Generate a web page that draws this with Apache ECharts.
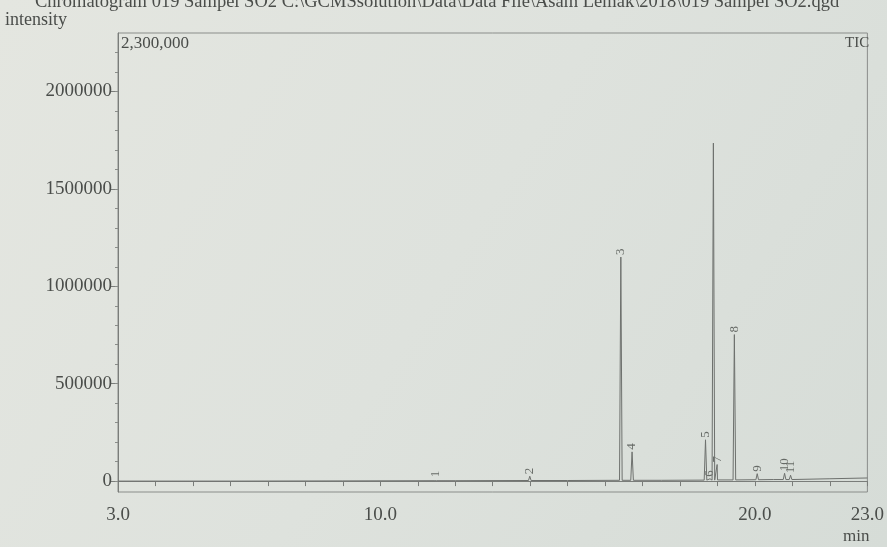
<!DOCTYPE html>
<html>
<head>
<meta charset="utf-8">
<script src="https://cdn.jsdelivr.net/npm/echarts@6/dist/echarts.min.js"></script>
<style>
html,body{margin:0;padding:0;background:#dfe2dd;}
#c{width:887px;height:547px;}
</style>
</head>
<body>
<div id="c"></div>
<script>
// ---- data ----
const titleText = 'Chromatogram 019 Sampel SO2 C:\\GCMSsolution\\Data\\Data File\\Asam Lemak\\2018\\019 Sampel SO2.qgd';
const xTickLabels = [3.0, 10.0, 20.0, 23.0];
const xTicks = [3,4,5,6,7,8,9,10,11,12,13,14,15,16,17,18,19,20,21,22,23];
const yTickLabels = [0, 500000, 1000000, 1500000, 2000000];
const yMinorTicks = [0,100000,200000,300000,400000,500000,600000,700000,800000,900000,1000000,1100000,1200000,1300000,1400000,1500000,1600000,1700000,1800000,1900000,2000000,2100000,2200000];

// baseline (min, intensity)
const baseTimes  = [3.0, 6.0, 9.0, 12.0, 15.0, 17.5, 19.0, 20.5, 22.0, 23.0];
const baseValues = [0, 0, 1000, 2000, 3000, 4000, 6000, 8000, 12000, 16000];

// peaks
const peakNames   = ['1', '2', '3', '4', '5', '6', '', '7', '8', '9', '10', '11'];
const peakTimes   = [11.47, 13.99, 16.42, 16.72, 18.68, 18.80, 18.89, 18.99, 19.45, 20.06, 20.79, 20.95];
const peakHeights = [9000, 25000, 1150000, 150000, 212000, 12000, 1735000, 85000, 752000, 38000, 40000, 30000];
const peakBases   = [2000, 3000, 4000, 4000, 5000, 5000, 5000, 5000, 6000, 7000, 8000, 8000];

// ---- build line from data ----
const hw = 0.035;
let pts = [];
baseTimes.forEach((t, i) => pts.push([t, baseValues[i]]));
peakTimes.forEach((t, i) => {
  pts.push([t - hw, peakBases[i]]);
  pts.push([t, peakHeights[i]]);
  pts.push([t + hw, peakBases[i]]);
});
pts.sort((a, b) => a[0] - b[0]);

const labelData = peakTimes.map((t, i) => ({value: [t, peakHeights[i]], name: peakNames[i]}));

const serif = '"Liberation Serif", "DejaVu Serif", serif';
const txt = '#4a4d4a';

const chart = echarts.init(document.getElementById('c'));
chart.setOption({
  backgroundColor: '#dfe2dd',
  animation: false,
  grid: {left: 118, right: 17, top: 33, bottom: 55, show: true, borderColor: '#8a8d8a', borderWidth: 1, backgroundColor: 'transparent'},
  xAxis: {
    type: 'value', min: 3, max: 23,
    axisLine: {lineStyle: {color: '#7a7d7a'}},
    splitLine: {show: false},
    axisTick: {show: true, inside: false, length: 5, customValues: xTicks, lineStyle: {color: '#7a7d7a'}},
    axisLabel: {customValues: xTickLabels, formatter: v => v.toFixed(1), fontFamily: serif, fontSize: 19, color: txt, margin: 14}
  },
  yAxis: [{
    type: 'value', min: -56000, max: 2300000,
    axisLine: {show: true, lineStyle: {color: '#7a7d7a'}},
    splitLine: {show: false},
    axisTick: {show: true, length: 7, customValues: yTickLabels, lineStyle: {color: '#7a7d7a'}},
    axisLabel: {customValues: yTickLabels, formatter: v => String(v), fontFamily: serif, fontSize: 19, color: txt, margin: 6}
  }, {
    type: 'value', min: -56000, max: 2300000, position: 'left',
    axisLine: {show: false},
    splitLine: {show: false},
    axisTick: {show: true, length: 3, customValues: yMinorTicks, lineStyle: {color: '#8a8d8a'}},
    axisLabel: {show: false}
  }],
  series: [{
    type: 'line', data: pts, symbol: 'none', showSymbol: false,
    lineStyle: {color: '#6e716e', width: 1}
  }, {
    type: 'scatter', data: labelData, symbolSize: 0,
    label: {
      show: true, position: 'top', distance: 2, rotate: 90, align: 'left', verticalAlign: 'middle',
      formatter: p => p.name, fontFamily: serif, fontSize: 13, color: '#4a4d4a'
    }
  }],
  graphic: [
    {type: 'rect', z: -100, silent: true, shape: {x: 0, y: 0, width: 887, height: 547},
     style: {fill: new echarts.graphic.LinearGradient(0, 0, 1, 1, [{offset: 0, color: '#e4e6e0'}, {offset: 0.5, color: '#dee2dd'}, {offset: 1, color: '#d6dcd7'}])}},
    {type: 'text', left: 35, top: -7, style: {text: titleText, font: '18.5px ' + serif, fill: txt}},
    {type: 'text', left: 5, top: 11, style: {text: 'intensity', font: '18px ' + serif, fill: txt}},
    {type: 'text', left: 121, top: 35, style: {text: '2,300,000', font: '17px ' + serif, fill: txt}},
    {type: 'text', left: 845, top: 36, style: {text: 'TIC', font: '15px ' + serif, fill: txt}},
    {type: 'text', left: 843, top: 528, style: {text: 'min', font: '17px ' + serif, fill: txt}}
  ]
});
</script>
</body>
</html>
